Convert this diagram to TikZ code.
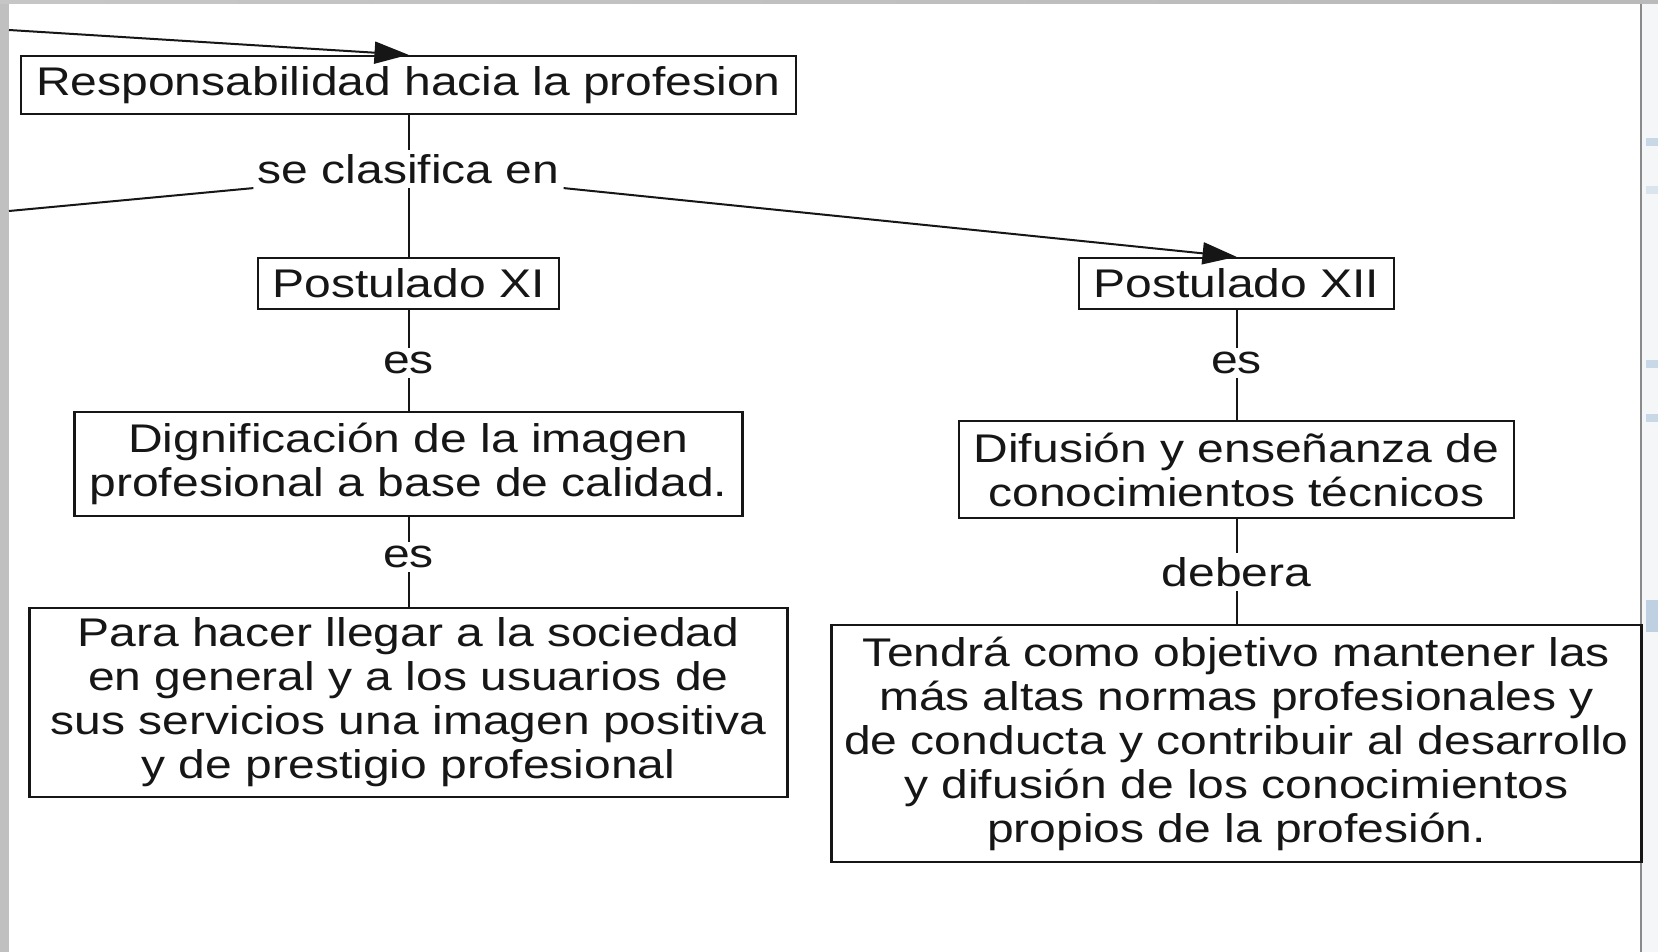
\documentclass[tikz,border=0pt]{standalone}
\usepackage{fontspec}
\setmainfont{Liberation Sans}[FakeStretch=1.2]
\usepackage{tikz}
\usetikzlibrary{arrows.meta}
\definecolor{ink}{HTML}{161616}
\definecolor{frame}{HTML}{C0C0C0}
\definecolor{rim}{HTML}{8A8A8A}
\definecolor{side}{HTML}{F4F6F8}
\definecolor{faint}{HTML}{C9D8E6}
\tikzset{box/.style={draw=ink,line width=1.2pt,fill=white,text=ink,align=center,inner sep=0pt,font=\fontsize{20}{22}\selectfont},lbl/.style={text=ink,inner sep=2pt,font=\fontsize{20}{22}\selectfont},link/.style={draw=ink,line width=1pt},flow/.style={-{Triangle[length=17pt,width=11pt]},draw=ink,line width=1pt}}

\begin{document}
\begin{tikzpicture}[x=0.5pt,y=-0.5pt]
\useasboundingbox (0,0) rectangle (1658,952);
% screen around the map
\fill[white] (0,0) rectangle (1658,952);
\fill[frame] (0,0) rectangle (9,952);
\shade[left color=frame!90,right color=frame!110] (0,0) rectangle (1658,4);
\fill[side] (1642,4) rectangle (1658,952);
\draw[rim,line width=1pt] (1641,4) -- (1641,952);
\fill[faint] (1646,138) rectangle (1658,146);
\fill[faint!70] (1646,186) rectangle (1658,194);
\fill[faint] (1646,360) rectangle (1658,368);
\fill[faint] (1646,414) rectangle (1658,422);
\fill[faint!120] (1646,600) rectangle (1658,632);
\node[box,minimum width=387.5pt,minimum height=29pt] (resp) at (408.5,85) {Responsabilidad hacia la profesion};
\node[lbl] (se) at (408.5,169) {se clasifica en};
\node[box,minimum width=150.5pt,minimum height=25.5pt] (pxi) at (408.5,283.5) {Postulado XI};
\node[box,minimum width=157.5pt,minimum height=25.5pt] (pxii) at (1236.5,283.5) {Postulado XII};
\node[lbl] (es1) at (408.5,363) {es};
\node[box,minimum width=334pt,minimum height=52pt] (dign) at (408.5,464) {Dignificación de la imagen\\profesional a base de calidad.};
\node[lbl] (es2) at (408.5,557) {es};
\node[box,minimum width=379pt,minimum height=94.5pt] (para) at (408.5,702.5) {Para hacer llegar a la sociedad\\en general y a los usuarios de\\sus servicios una imagen positiva\\y de prestigio profesional};
\node[lbl] (es3) at (1236.5,363) {es};
\node[box,minimum width=277.5pt,minimum height=48.5pt] (difu) at (1236.5,469.5) {Difusión y enseñanza de\\conocimientos técnicos};
\node[lbl] (deb) at (1236.5,572) {debera};
\node[box,minimum width=405pt,minimum height=118.5pt] (tend) at (1236.5,743.5) {Tendrá como objetivo mantener las\\más altas normas profesionales y\\de conducta y contribuir al desarrollo\\y difusión de los conocimientos\\propios de la profesión.};
\coordinate (inA) at (9,30);
\coordinate (inB) at (9,211);
\draw[flow] (inA) -- (resp.north);
\draw[link] (inB) -- (se.south west);
\draw[link] (resp) -- (se);\draw[link] (se) -- (pxi);
\draw[flow] (se.south east) -- (pxii.north);
\draw[link] (pxi) -- (es1);\draw[link] (es1) -- (dign);
\draw[link] (dign) -- (es2);\draw[link] (es2) -- (para);
\draw[link] (pxii) -- (es3);\draw[link] (es3) -- (difu);
\draw[link] (difu) -- (deb);\draw[link] (deb) -- (tend);
\end{tikzpicture}
\end{document}
